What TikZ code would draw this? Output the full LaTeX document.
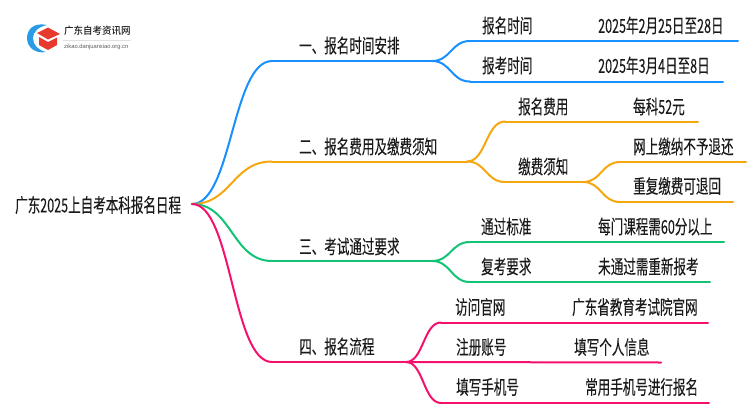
\documentclass[tikz,border=0pt]{standalone}
\usepackage{fontspec}
\setmainfont{Noto Sans CJK SC}[FakeStretch=0.65,FakeBold=0.1]
\newfontfamily\logofont{Noto Sans CJK SC Medium}[FakeStretch=0.95]
\newfontfamily\urlfont{Liberation Sans}
\definecolor{cblue}{HTML}{1890FF}
\definecolor{corange}{HTML}{F5A70F}
\definecolor{cgreen}{HTML}{13C375}
\definecolor{cpink}{HTML}{F5106C}
\definecolor{ctext}{HTML}{1A1A1A}
\definecolor{chat}{HTML}{E8392F}
\definecolor{cswoosh}{HTML}{2A9BE6}
\usetikzlibrary{calc}
\tikzset{
  lbl/.style={anchor=west,inner sep=0pt,text=ctext,font=\fontsize{19.3}{21}\selectfont},
  edge/.style={line width=2pt,line cap=round},
  flow/.style={edge,to path={.. controls ($(\tikztostart)!0.5!(\tikztotarget|-\tikztostart)$) and ($(\tikztotarget)!0.5!(\tikztostart|-\tikztotarget)$) .. (\tikztotarget)}},
}
\begin{document}
\begin{tikzpicture}[x=1pt,y=-1pt]
\useasboundingbox (0,0) rectangle (750,410);
% logo
\fill[cswoosh] (47,25) .. controls (33,22) and (27,30) .. (27,38) .. controls (27,47) and (35,54) .. (46,52) .. controls (38,50) and (33,45) .. (33,38) .. controls (33,32) and (38,27) .. (47,25) -- cycle;
\fill[chat] (37,33) -- (48,27.5) -- (60,34) -- (48,39.5) -- cycle;
\fill[chat] (39,37) -- (48,42) -- (57,37.5) -- (57,45) -- (48,50) -- (39,45) -- cycle;
\node[anchor=west,inner sep=0pt,text=ctext,font=\logofont\fontsize{10}{11}\selectfont] (logotitle) at (64,31) {广东自考资讯网};
\draw[black!12,line width=.5pt] (63,40) -- (131,40);
\node[anchor=west,inner sep=0pt,text=black!65,font=\urlfont\fontsize{5.8}{6}\selectfont] (logourl) at (64,47) {zikao.danjuanxiao.org.cn};
% root and labels
\node[lbl] (root) at (15,205) {广东2025上自考本科报名日程};
\node[lbl] (t1) at (299,45.5) {一、报名时间安排};
\node[lbl] (t2) at (299,146.5) {二、报名费用及缴费须知};
\node[lbl] (t3) at (299,246.5) {三、考试通过要求};
\node[lbl] (t4) at (299,346.5) {四、报名流程};
\node[lbl] (a1) at (482,25.5) {报名时间};
\node[lbl] (a1v) at (598,25.5) {2025年2月25日至28日};
\node[lbl] (a2) at (482,65.5) {报考时间};
\node[lbl] (a2v) at (598,65.5) {2025年3月4日至8日};
\node[lbl] (b1) at (518,106.5) {报名费用};
\node[lbl] (b1v) at (633,106.5) {每科52元};
\node[lbl] (b2) at (518,166.5) {缴费须知};
\node[lbl] (b2a) at (633,146.5) {网上缴纳不予退还};
\node[lbl] (b2b) at (633,186) {重复缴费可退回};
\node[lbl] (c1) at (481,226.5) {通过标准};
\node[lbl] (c1v) at (598,226.5) {每门课程需60分以上};
\node[lbl] (c2) at (481,266.5) {复考要求};
\node[lbl] (c2v) at (598,266.5) {未通过需重新报考};
\node[lbl] (d1) at (455,307) {访问官网};
\node[lbl] (d1v) at (572,307) {广东省教育考试院官网};
\node[lbl] (d2) at (456,347) {注册账号};
\node[lbl] (d2v) at (574,347) {填写个人信息};
\node[lbl] (d3) at (456,387) {填写手机号};
\node[lbl] (d3v) at (585,387) {常用手机号进行报名};
% junction coordinates
\coordinate (o) at (192,204);
\coordinate (k1) at (272,61); \coordinate (j1) at (432,61);
\coordinate (k2) at (272,161.5); \coordinate (j2) at (467,161.5);
\coordinate (k3) at (272,261); \coordinate (j3) at (432,261);
\coordinate (k4) at (272,362); \coordinate (j4) at (406,362);
\coordinate (a1s) at (470,41); \coordinate (a1e) at (738,41);
\coordinate (a2s) at (470,81.5); \coordinate (a2e) at (723,81.5);
\coordinate (b1s) at (505,121.5); \coordinate (b1e) at (698,121.5);
\coordinate (b2s) at (505,182); \coordinate (j5) at (583,182);
\coordinate (b3s) at (620,162); \coordinate (b3e) at (746,162);
\coordinate (b4s) at (620,202); \coordinate (b4e) at (733,202);
\coordinate (c1s) at (470,242); \coordinate (c1e) at (724,242);
\coordinate (c2s) at (470,282); \coordinate (c2e) at (710,282);
\coordinate (d1s) at (441,322.5); \coordinate (d1e) at (708,322.5);
\coordinate (d2e) at (661,362.5);
\coordinate (d3s) at (441,403); \coordinate (d3e) at (709,403);
% connectors
\draw[flow,cblue] (o) to (k1); \draw[edge,cblue] (k1) -- (j1);
\draw[flow,cblue] (j1) to (a1s); \draw[edge,cblue] (a1s) -- (a1e);
\draw[flow,cblue] (j1) to (a2s); \draw[edge,cblue] (a2s) -- (a2e);
\draw[flow,corange] (o) to (k2); \draw[edge,corange] (k2) -- (j2);
\draw[flow,corange] (j2) to (b1s); \draw[edge,corange] (b1s) -- (b1e);
\draw[flow,corange] (j2) to (b2s); \draw[edge,corange] (b2s) -- (j5);
\draw[flow,corange] (j5) to (b3s); \draw[edge,corange] (b3s) -- (b3e);
\draw[flow,corange] (j5) to (b4s); \draw[edge,corange] (b4s) -- (b4e);
\draw[flow,cgreen] (o) to (k3); \draw[edge,cgreen] (k3) -- (j3);
\draw[flow,cgreen] (j3) to (c1s); \draw[edge,cgreen] (c1s) -- (c1e);
\draw[flow,cgreen] (j3) to (c2s); \draw[edge,cgreen] (c2s) -- (c2e);
\draw[flow,cpink] (o) to (k4); \draw[edge,cpink] (k4) -- (j4);
\draw[flow,cpink] (j4) to (d1s); \draw[edge,cpink] (d1s) -- (d1e);
\draw[edge,cpink] (j4) -- (d2e);
\draw[flow,cpink] (j4) to (d3s); \draw[edge,cpink] (d3s) -- (d3e);
\end{tikzpicture}
\end{document}
